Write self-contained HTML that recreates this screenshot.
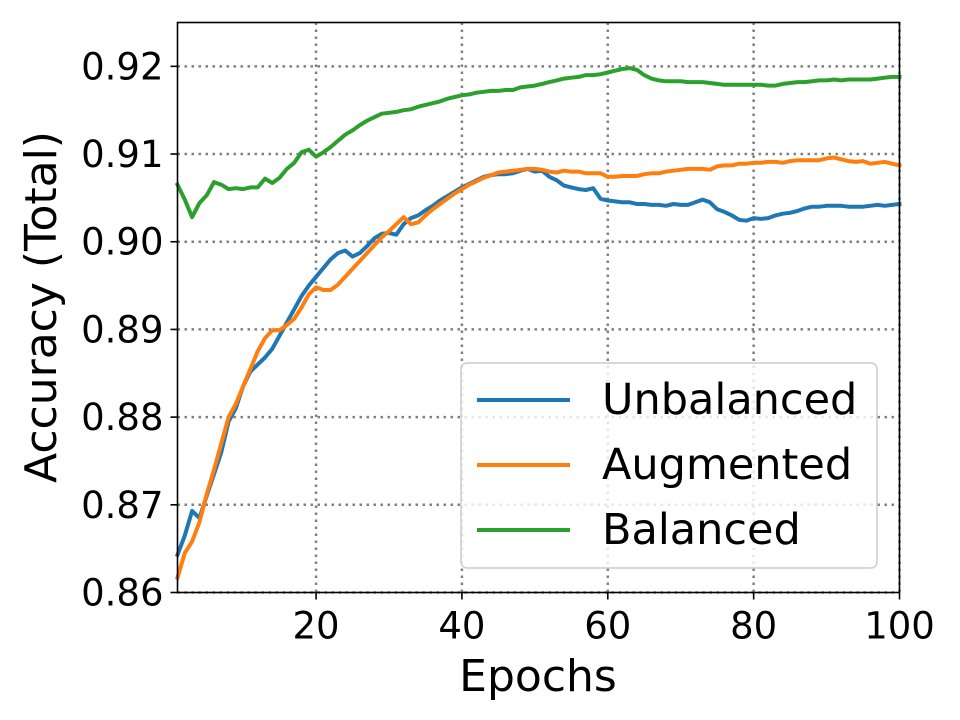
<!DOCTYPE html>
<html><head><meta charset="utf-8"><style>
body{margin:0;background:#fff}
svg{display:block;font-family:"DejaVu Sans","Liberation Sans",sans-serif}
</style></head><body>
<svg id="chart" width="960" height="720">
<rect width="960" height="720" fill="#fff"/>
<g id="grid"></g>
<g id="series"></g>
<rect x="177.5" y="22.5" width="722" height="570" fill="none" stroke="#000" stroke-width="1.6"/>
<g id="ticks"></g>
<text x="56" y="307" font-size="44" text-anchor="middle" transform="rotate(-90 56 307)">Accuracy (Total)</text>
<text x="538" y="691" font-size="44" text-anchor="middle">Epochs</text>
<g>
<rect x="461" y="363" width="416" height="205" rx="6" fill="#fff" fill-opacity="0.8" stroke="#ccc" stroke-width="1.5"/>
<g><line x1="477" y1="400" x2="570" y2="400" stroke="#1f77b4" stroke-width="4"/><text x="602" y="414" font-size="43">Unbalanced</text></g>
<g><line x1="477" y1="465" x2="570" y2="465" stroke="#ff7f0e" stroke-width="4"/><text x="602" y="479" font-size="43">Augmented</text></g>
<g><line x1="477" y1="530" x2="570" y2="530" stroke="#2ca02c" stroke-width="4"/><text x="602" y="544" font-size="43">Balanced</text></g>
</g>
</svg>
<script>
const epochs = Array.from({length:100},(_, i)=>i+1);
const unbalanced = [0.8643,0.8665,0.8693,0.8685,0.871,0.8735,0.876,0.8795,0.881,0.8835,0.8852,0.886,0.8868,0.8878,0.8893,0.8908,0.8923,0.8938,0.895,0.896,0.897,0.898,0.8987,0.899,0.8983,0.8987,0.8995,0.9004,0.9009,0.901,0.9008,0.902,0.9027,0.903,0.9036,0.9041,0.9047,0.9052,0.9057,0.9062,0.9066,0.907,0.9074,0.9076,0.9077,0.9077,0.9078,0.9081,0.9083,0.908,0.9081,0.9074,0.907,0.9064,0.9062,0.906,0.9059,0.9061,0.9049,0.9047,0.9046,0.9045,0.9045,0.9043,0.9043,0.9042,0.9042,0.9041,0.9043,0.9042,0.9042,0.9045,0.9048,0.9045,0.9037,0.9034,0.903,0.9025,0.9024,0.9027,0.9026,0.9027,0.903,0.9032,0.9033,0.9035,0.9038,0.904,0.904,0.9041,0.9041,0.9041,0.904,0.904,0.904,0.9041,0.9042,0.9041,0.9042,0.9043];
const augmented = [0.8617,0.8645,0.8658,0.868,0.8712,0.874,0.877,0.88,0.8815,0.8835,0.8855,0.8875,0.889,0.8899,0.8899,0.8905,0.8912,0.8925,0.894,0.8948,0.8945,0.8945,0.8951,0.896,0.8969,0.8978,0.8987,0.8996,0.9005,0.9012,0.902,0.9028,0.902,0.9022,0.903,0.9037,0.9043,0.9049,0.9055,0.906,0.9065,0.9069,0.9073,0.9076,0.9079,0.908,0.9081,0.9082,0.9083,0.9083,0.9082,0.908,0.9079,0.9081,0.908,0.908,0.9078,0.9078,0.9078,0.9074,0.9074,0.9075,0.9075,0.9075,0.9077,0.9078,0.9078,0.908,0.9081,0.9082,0.9083,0.9083,0.9083,0.9082,0.9086,0.9087,0.9087,0.9089,0.9089,0.909,0.909,0.9091,0.9091,0.909,0.9092,0.9093,0.9093,0.9093,0.9093,0.9095,0.9096,0.9094,0.9092,0.9091,0.9092,0.9089,0.909,0.9091,0.9089,0.9087];
const balanced = [0.9065,0.9048,0.9028,0.9044,0.9053,0.9068,0.9065,0.906,0.9061,0.906,0.9062,0.9062,0.9072,0.9067,0.9073,0.9083,0.909,0.9102,0.9105,0.9097,0.9102,0.9108,0.9115,0.9122,0.9127,0.9133,0.9138,0.9142,0.9146,0.9147,0.9148,0.915,0.9151,0.9154,0.9156,0.9158,0.916,0.9163,0.9165,0.9167,0.9168,0.917,0.9171,0.9172,0.9172,0.9173,0.9173,0.9176,0.9177,0.9178,0.918,0.9182,0.9184,0.9186,0.9187,0.9188,0.919,0.919,0.9191,0.9193,0.9195,0.9197,0.9198,0.9196,0.919,0.9186,0.9184,0.9183,0.9183,0.9183,0.9182,0.9182,0.9182,0.9181,0.918,0.9179,0.9179,0.9179,0.9179,0.9179,0.9179,0.9178,0.9178,0.918,0.9181,0.9182,0.9182,0.9183,0.9184,0.9184,0.9185,0.9184,0.9185,0.9185,0.9185,0.9185,0.9186,0.9187,0.9188,0.9188];
const xTicks = [20,40,60,80,100];
const yTicks = [0.86,0.87,0.88,0.89,0.90,0.91,0.92];
const yTickLabels = ["0.86","0.87","0.88","0.89","0.90","0.91","0.92"];

const NS="http://www.w3.org/2000/svg";
const L=177.5,R=899.5,T=22.5,B=592.5;
const xMin=1,xMax=100,yMin=0.86,yMax=0.925;
const sx=v=>L+(v-xMin)/(xMax-xMin)*(R-L);
const sy=v=>B-(v-yMin)/(yMax-yMin)*(B-T);
function mk(tag,attrs,parent){const e=document.createElementNS(NS,tag);for(const k in attrs)e.setAttribute(k,attrs[k]);parent.appendChild(e);return e;}
const grid=document.getElementById('grid'),ticks=document.getElementById('ticks'),series=document.getElementById('series');
xTicks.forEach(t=>{
  const x=sx(t);
  const g=mk('line',{x1:x,x2:x,y1:T,y2:B,stroke:'#808080','stroke-width':2.5,'stroke-dasharray':'2.5,4.5'},grid);
  
  
  const tk=mk('line',{x1:x,x2:x,y1:B,y2:B+7,stroke:'#000','stroke-width':1.6},ticks);
  
  
  const tx=mk('text',{x:x,y:B+46,'font-size':37,'text-anchor':'middle'},ticks);
  tx.textContent=t;
  
  
});
yTicks.forEach((t,i)=>{
  const y=sy(t);
  const g=mk('line',{x1:L,x2:R,y1:y,y2:y,stroke:'#808080','stroke-width':2.5,'stroke-dasharray':'2.5,4.5'},grid);
  
  
  const tk=mk('line',{x1:L-7,x2:L,y1:y,y2:y,stroke:'#000','stroke-width':1.6},ticks);
  
  
  const tx=mk('text',{x:L-14,y:y+13,'font-size':37,'text-anchor':'end'},ticks);
  tx.textContent=yTickLabels[i];
  
  
});
[[unbalanced,'#1f77b4','line-unbalanced'],[augmented,'#ff7f0e','line-augmented'],[balanced,'#2ca02c','line-balanced']].forEach(([d,c,n])=>{
  const pts=d.map((v,i)=>sx(epochs[i]).toFixed(1)+','+sy(v).toFixed(1)).join(' ');
  const p=mk('polyline',{points:pts,fill:'none',stroke:c,'stroke-width':4,'stroke-linejoin':'round','stroke-linecap':'square'},series);
  
  
});
</script>
</body></html>
